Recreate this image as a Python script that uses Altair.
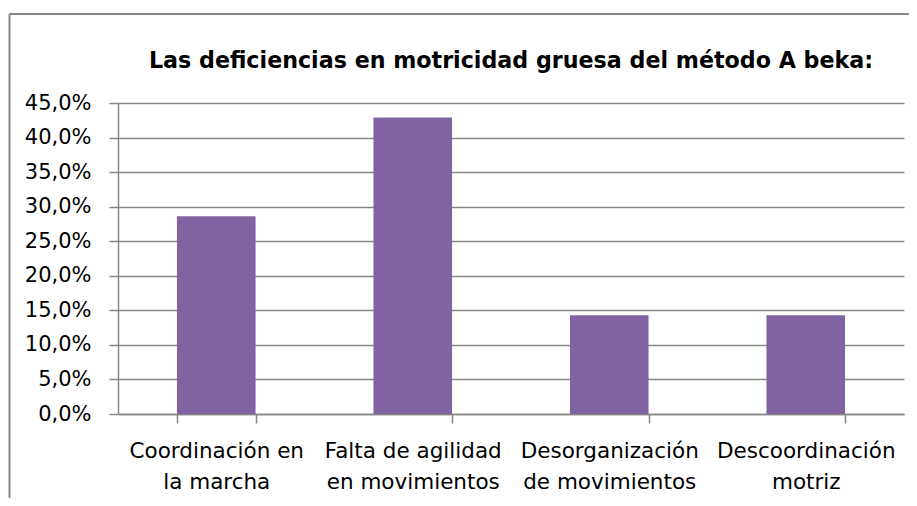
import altair as alt
import pandas as pd

categories = [
    "Coordinación en|la marcha",
    "Falta de agilidad|en movimientos",
    "Desorganización|de movimientos",
    "Descoordinación|motriz",
]
values = [0.286, 0.429, 0.143, 0.143]
y_ticks = [0.0, 0.05, 0.10, 0.15, 0.20, 0.25, 0.30, 0.35, 0.40, 0.45]
title_text = "Las deficiencias en motricidad gruesa del método A beka:"

FONT = "DejaVu Sans"
GRAY = "#868686"

df = pd.DataFrame({"cat": categories, "val": values})

bars = alt.Chart(df).mark_bar(color="#8064A2").encode(
    x=alt.X(
        "cat:N",
        sort=categories,
        title=None,
        scale=alt.Scale(paddingInner=0.6, paddingOuter=0.3),
        axis=alt.Axis(
            labelExpr="split(datum.label, '|')",
            labelAngle=0,
            labelLimit=0,
            tickBand="extent",
            tickSize=9,
            tickColor=GRAY,
            tickWidth=1.5,
            domainColor=GRAY,
            domainWidth=1.5,
            labelFont=FONT,
            labelFontSize=21.5,
            labelColor="#000000",
            labelLineHeight=31,
            labelPadding=17,
            labelBaseline="top",
        ),
    ),
    y=alt.Y(
        "val:Q",
        title=None,
        scale=alt.Scale(domain=[0, 0.45], nice=False),
        axis=alt.Axis(
            values=y_ticks,
            labelExpr="replace(format(datum.value, '.1%'), '.', ',')",
            grid=True,
            gridColor=GRAY,
            gridWidth=1.5,
            tickSize=9,
            tickColor=GRAY,
            tickWidth=1.5,
            domainColor=GRAY,
            domainWidth=1.5,
            labelFont=FONT,
            labelFontSize=21,
            labelColor="#000000",
            labelPadding=18,
        ),
    ),
)

one = alt.Data(values=[{"t": title_text}])

title_mark = alt.Chart(one).mark_text(
    font=FONT, fontSize=22.2, fontWeight="bold", color="#000000",
    align="center", baseline="alphabetic",
).encode(x=alt.value(393), y=alt.value(-35), text="t:N")

frame_top = alt.Chart(one).mark_rule(color=GRAY, strokeWidth=2).encode(
    x=alt.value(-108.5), x2=alt.value(800), y=alt.value(-89), y2=alt.value(-89)
)
frame_left = alt.Chart(one).mark_rule(color=GRAY, strokeWidth=2).encode(
    x=alt.value(-108.5), x2=alt.value(-108.5), y=alt.value(-89), y2=alt.value(400)
)

chart = alt.layer(bars, title_mark, frame_top, frame_left).properties(
    width=786,
    height=311,
    padding={"left": 110, "top": 95, "right": 5, "bottom": 84},
    autosize=alt.AutoSizeParams(type="none"),
).configure_view(stroke=None)

chart.save("out.html", embed_options={"renderer": "svg", "actions": False})
